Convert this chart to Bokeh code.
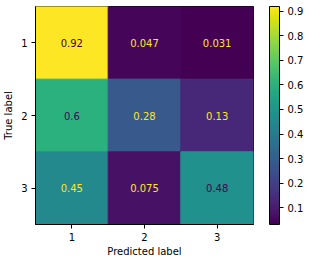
from bokeh.plotting import figure
from bokeh.models import (ColumnDataSource, LinearColorMapper, ColorBar, FixedTicker,
                          Range1d)
from bokeh.palettes import Viridis256
from bokeh.core.properties import value
from bokeh.embed import file_html
from bokeh.resources import INLINE

labels = ["1", "2", "3"]
matrix = [
    [0.92, 0.047, 0.031],
    [0.6, 0.28, 0.13],
    [0.45, 0.075, 0.48],
]
cbar_ticks = [0.1, 0.2, 0.3, 0.4, 0.5, 0.6, 0.7, 0.8, 0.9]

vals = [v for row in matrix for v in row]
vmin, vmax = min(vals), max(vals)
thresh = (vmin + vmax) / 2.0

xs, ys, vs, txt, tcol = [], [], [], [], []
for i, row in enumerate(matrix):
    for j, v in enumerate(row):
        xs.append(j + 1)
        ys.append(i + 1)
        vs.append(v)
        txt.append(f"{v:.2g}")
        tcol.append(Viridis256[-1] if v < thresh else Viridis256[0])

src = ColumnDataSource(dict(x=xs, y=ys, v=vs, t=txt, c=tcol))
mapper = LinearColorMapper(palette=Viridis256, low=vmin, high=vmax)

FONT = "DejaVu Sans"
p = figure(width=309, height=262, output_backend="svg", toolbar_location=None,
           x_range=Range1d(0.5, 3.5), y_range=Range1d(3.5, 0.5),
           min_border_left=35, min_border_top=6, min_border_bottom=38, min_border_right=56)
cmap_field = {"field": "v", "transform": mapper}
p.rect(x="x", y="y", width=1, height=1, source=src,
       fill_color=cmap_field, line_color=cmap_field, line_width=1)
p.text(x="x", y="y", text="t", source=src, text_color="c",
       text_align="center", text_baseline="middle",
       text_font=value(FONT), text_font_size="10px")

p.grid.visible = False
p.outline_line_color = "black"
p.outline_line_width = 1
p.outline_line_alpha = 1

tick_names = {i + 1: lab for i, lab in enumerate(labels)}
for ax in (p.xaxis, p.yaxis):
    ax.ticker = FixedTicker(ticks=list(tick_names.keys()))
    ax.major_label_overrides = tick_names
    ax.major_tick_out = 4
    ax.major_tick_in = 0
    ax.minor_tick_out = 0
    ax.minor_tick_in = 0
    ax.axis_line_color = "black"
    ax.major_tick_line_color = "black"
    ax.major_label_text_font = FONT
    ax.major_label_text_font_size = "10px"
    ax.major_label_text_color = "black"
    ax.axis_label_text_font = FONT
    ax.axis_label_text_font_size = "10px"
    ax.axis_label_text_font_style = "normal"
    ax.axis_label_text_color = "black"
    ax.major_label_standoff = 4

p.xaxis.axis_label_standoff = 2
p.yaxis.axis_label_standoff = 4
p.xaxis.axis_label = "Predicted label"
p.yaxis.axis_label = "True label"
p.yaxis.major_label_orientation = "horizontal"

cb = ColorBar(color_mapper=mapper, ticker=FixedTicker(ticks=cbar_ticks),
              width=10, height=218, margin=0, padding=0, location=(234, 0),
              major_tick_out=4, major_tick_in=0, major_tick_line_color="black",
              bar_line_color="black", bar_line_width=1,
              border_line_color=None, background_fill_color=None,
              label_standoff=4, major_label_text_font=FONT,
              major_label_text_font_size="10px", major_label_text_color="black",
              minor_tick_line_color=None)
p.add_layout(cb, "center")

open("out.html", "w").write(file_html(p, INLINE))
